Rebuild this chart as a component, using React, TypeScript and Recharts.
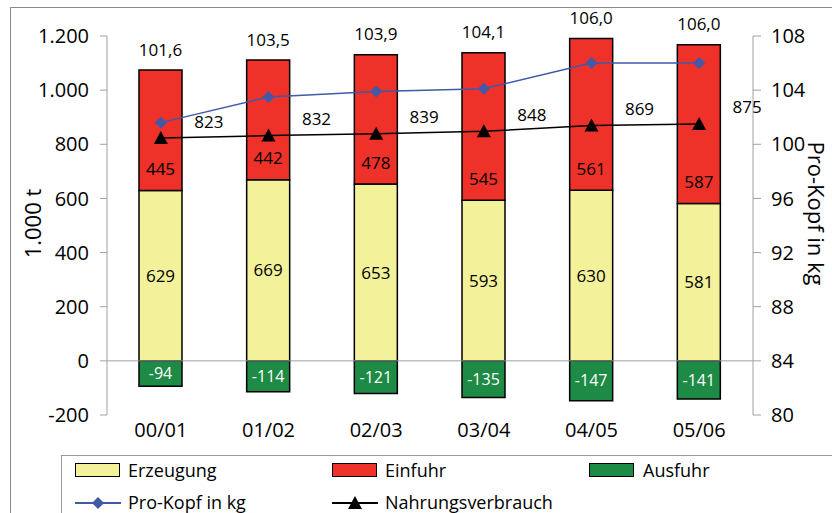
import React from 'react';
import {
    ComposedChart, Bar, Line, XAxis, YAxis, ReferenceLine, LabelList
} from 'recharts';

const years = ['00/01', '01/02', '02/03', '03/04', '04/05', '05/06'];
const erzeugung = [629, 669, 653, 593, 630, 581];
const einfuhr = [445, 442, 478, 545, 561, 587];
const ausfuhr = [-94, -114, -121, -135, -147, -141];
const proKopf = [101.6, 103.5, 103.9, 104.1, 106.0, 106.0];
const verbrauch = [823, 832, 839, 848, 869, 875];

const leftTicks = [-200, 0, 200, 400, 600, 800, 1000, 1200];
const rightTicks = [80, 84, 88, 92, 96, 100, 104, 108];

const YELLOW = '#F3F199';
const RED = '#EE3129';
const GREEN = '#1D8A45';
const BLUE = '#4059A8';
const FONT = '"Open Sans", sans-serif';

const data = years.map((y, i) => ({
    year: y,
    erzeugung: erzeugung[i],
    einfuhr: einfuhr[i],
    ausfuhr: ausfuhr[i],
    proKopf: proKopf[i],
    verbrauch: verbrauch[i],
}));

const fmtThousands = (v: number) => v.toLocaleString('de-DE');
const fmtComma = (v: number) => v.toFixed(1).replace('.', ',');

const Diamond = ({ cx, cy }: any) => {
    if (cx == null || cy == null) return null;
    return <path d={`M${cx},${cy - 6} L${cx + 6},${cy} L${cx},${cy + 6} L${cx - 6},${cy} Z`} fill={BLUE} />;
};

const Triangle = ({ cx, cy }: any) => {
    if (cx == null || cy == null) return null;
    return <path d={`M${cx},${cy - 7} L${cx + 7},${cy + 6} L${cx - 7},${cy + 6} Z`} fill="#000" />;
};

// Einfuhr value sits in the lower part of the red segment
const EinfuhrLabel = ({ x, y, width, height, value }: any) => (
    <text x={x + width / 2} y={y + height - 22} textAnchor="middle" dominantBaseline="central"
        fontSize={17} fontFamily={FONT} fill="#000">{value}</text>
);

// per-capita value printed above each stacked bar
const ProKopfLabel = ({ x, y, width, index }: any) => (
    <text x={x + width / 2} y={y - 21} textAnchor="middle" dominantBaseline="central"
        fontSize={17} fontFamily={FONT} fill="#000">{fmtComma(proKopf[index])}</text>
);

const VerbrauchLabel = ({ x, y, value }: any) => (
    <text x={x + 48} y={y - 17} textAnchor="middle" dominantBaseline="central"
        fontSize={17} fontFamily={FONT} fill="#000">{value}</text>
);

const LegendBox = () => {
    const text = { position: 'absolute' as const, fontSize: 18, fontFamily: FONT, lineHeight: '20px', color: '#000' };
    const swatch = (color: string) => ({
        position: 'absolute' as const, width: 43, height: 12, background: color, border: '1px solid #000',
    });
    return (
        <div style={{ position: 'absolute', left: 61, top: 455, width: 800, height: 80, border: '1px solid #999', background: '#fff' }}>
            <div style={{ ...swatch(YELLOW), left: 13, top: 7 }} />
            <div style={{ ...text, left: 66, top: 4 }}>Erzeugung</div>
            <div style={{ ...swatch(RED), left: 270, top: 7 }} />
            <div style={{ ...text, left: 323, top: 4 }}>Einfuhr</div>
            <div style={{ ...swatch(GREEN), left: 527, top: 7 }} />
            <div style={{ ...text, left: 581, top: 4 }}>Ausfuhr</div>

            <svg style={{ position: 'absolute', left: 13, top: 38 }} width={46} height={18}>
                <line x1={0} y1={9} x2={46} y2={9} stroke={BLUE} strokeWidth={2} />
                <Diamond cx={23} cy={9} />
            </svg>
            <div style={{ ...text, left: 66, top: 36 }}>Pro-Kopf in kg</div>
            <svg style={{ position: 'absolute', left: 270, top: 38 }} width={46} height={18}>
                <line x1={0} y1={9} x2={46} y2={9} stroke="#000" strokeWidth={2} />
                <Triangle cx={23} cy={9} />
            </svg>
            <div style={{ ...text, left: 323, top: 36 }}>Nahrungsverbrauch</div>
        </div>
    );
};

export default function App() {
    return (
        <div style={{ position: 'absolute', left: 0, top: 0, width: 832, height: 513, overflow: 'hidden', background: '#fff' }}>
            {/* outer frame, runs off the right and bottom edge */}
            <div style={{ position: 'absolute', left: 10, top: 7, width: 900, height: 600, border: '1.5px solid #8a8a8a' }} />
            <div style={{ position: 'absolute', left: 0, top: 0 }}>
                <ComposedChart width={832} height={513} data={data} stackOffset="sign"
                    margin={{ top: 36, right: 0, bottom: 0, left: 0 }}>
                    <XAxis dataKey="year" axisLine={false} tickLine={false} tickSize={0} tickMargin={8}
                        tick={{ fontSize: 20, fontFamily: FONT, fill: '#000' }} height={98} />
                    <YAxis yAxisId="left" width={107} domain={[-200, 1200]} ticks={leftTicks}
                        allowDataOverflow tickFormatter={fmtThousands} stroke="#a0a0a0" tickSize={7} tickMargin={11}
                        tick={{ fontSize: 20, fontFamily: FONT, fill: '#000' }}
                        label={{ value: '1.000 t', angle: -90, position: 'center', dx: -20, dy: -2, fontSize: 22, fontFamily: FONT, fill: '#000' }} />
                    <YAxis yAxisId="right" orientation="right" width={79} domain={[80, 108]} ticks={rightTicks}
                        allowDataOverflow stroke="#a0a0a0" tickSize={8} tickMargin={10}
                        tick={{ fontSize: 20, fontFamily: FONT, fill: '#000' }}
                        label={{ value: 'Pro-Kopf in kg', angle: 90, position: 'center', dx: 23, dy: -12, fontSize: 22, fontFamily: FONT, fill: '#000' }} />
                    <ReferenceLine yAxisId="left" y={0} stroke="#a0a0a0" strokeWidth={1} />
                    <Bar yAxisId="left" dataKey="erzeugung" stackId="a" barSize={43} fill={YELLOW}
                        stroke="#000" strokeWidth={1.5} isAnimationActive={false}>
                        <LabelList dataKey="erzeugung" position="center" fontSize={17} fontFamily={FONT} fill="#000" />
                    </Bar>
                    <Bar yAxisId="left" dataKey="einfuhr" stackId="a" barSize={43} fill={RED}
                        stroke="#000" strokeWidth={1.5} isAnimationActive={false}>
                        <LabelList dataKey="einfuhr" content={<EinfuhrLabel />} />
                        <LabelList dataKey="proKopf" content={<ProKopfLabel />} />
                    </Bar>
                    <Bar yAxisId="left" dataKey="ausfuhr" stackId="a" barSize={43} fill={GREEN}
                        stroke="#000" strokeWidth={1.5} isAnimationActive={false}>
                        <LabelList dataKey="ausfuhr" position="center" fontSize={16} fontFamily={FONT} fill="#fff" />
                    </Bar>
                    <Line yAxisId="right" dataKey="proKopf" stroke={BLUE} strokeWidth={1.5}
                        dot={<Diamond />} activeDot={false} isAnimationActive={false} />
                    <Line yAxisId="left" dataKey="verbrauch" stroke="#000" strokeWidth={1.5}
                        dot={<Triangle />} activeDot={false} isAnimationActive={false}>
                        <LabelList dataKey="verbrauch" content={<VerbrauchLabel />} />
                    </Line>
                </ComposedChart>
            </div>
            <LegendBox />
        </div>
    );
}
